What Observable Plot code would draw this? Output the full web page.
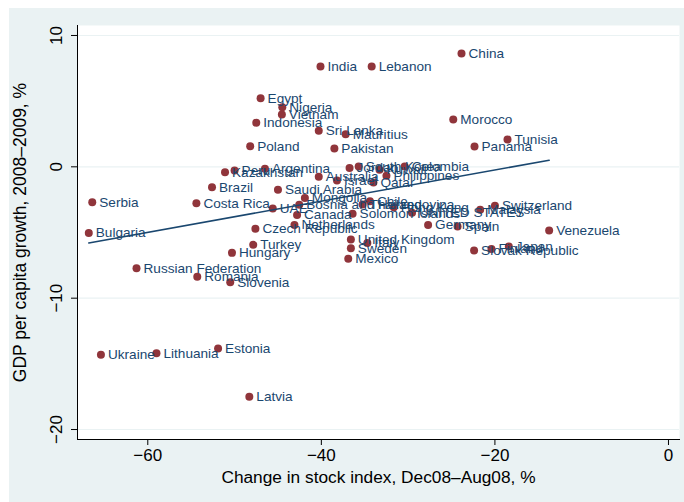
<!DOCTYPE html>
<html><head><meta charset="utf-8">
<script src="https://cdn.jsdelivr.net/npm/d3@7"></script>
<script src="https://cdn.jsdelivr.net/npm/@observablehq/plot@0.6"></script>
<style>
body{margin:0;background:#fff;}
#chart{position:absolute;left:9px;top:8px;}
</style></head><body><div id="chart"></div>
<script>
const countries = ["China","India","Lebanon","Egypt","Nigeria","Vietnam","Indonesia","Sri Lanka","Mauritius","Poland","Pakistan","Morocco","Panama","Tunisia",
"Peru","Kazakhstan","Argentina","Australia","Israel","Saudi Arabia","Jordan","South Korea","Kuwait","Colombia","Philippines","Qatar",
"Brazil","Serbia","Costa Rica","Bulgaria","Russian Federation","Romania","Slovenia","Hungary","Turkey","Czech Republic","UAE",
"Ukraine","Lithuania","Estonia","Latvia","Mongolia","Bosnia and Herzegovina","Canada","Netherlands","Solomon Islands",
"United Kingdom","Sweden","Mexico","Italy","Chile","Thailand","Hong Kong","UNITED STATES","Germany","Spain","Venezuela",
"Slovak Republic","Finland","Japan","Switzerland","Malaysia"];
const stockChange = [-23.85,-40.1,-34.2,-47.0,-44.5,-44.55,-47.5,-40.3,-37.2,-48.2,-38.5,-24.8,-22.35,-18.55,
-50.0,-51.1,-46.5,-40.3,-38.2,-45.0,-36.75,-35.7,-33.3,-30.4,-32.5,-34.0,
-52.6,-66.4,-54.4,-66.8,-61.3,-54.3,-50.5,-50.3,-47.85,-47.6,-45.6,
-65.4,-59.0,-51.9,-48.3,-41.9,-42.55,-42.8,-43.1,-36.4,
-36.6,-36.6,-36.9,-34.7,-34.4,-35.25,-31.65,-29.55,-27.7,-24.3,-13.75,
-22.4,-20.4,-18.4,-20.0,-21.7];
const gdpGrowth = [8.63,7.64,7.64,5.22,4.54,3.98,3.35,2.74,2.48,1.57,1.39,3.6,1.54,2.08,
-0.28,-0.41,-0.15,-0.76,-1.04,-1.75,-0.08,0.02,-0.23,0.02,-0.67,-1.2,
-1.55,-2.7,-2.77,-5.03,-7.72,-8.36,-8.79,-6.55,-5.94,-4.72,-3.17,
-14.3,-14.2,-13.84,-17.5,-2.37,-2.89,-3.66,-4.42,-3.58,
-5.54,-6.2,-7.0,-5.79,-2.62,-2.87,-3.08,-3.5,-4.42,-4.55,-4.85,
-6.37,-6.25,-6.06,-2.96,-3.27];
const xTicks = [-60,-40,-20,0];
const yTicks = [-20,-10,0,10];
const xTitle = "Change in stock index, Dec08\u2013Aug08, %";
const yTitle = "GDP per capita growth, 2008\u20132009, %";

const data = countries.map((c,i)=>({country:c, x:stockChange[i], y:gdpGrowth[i]}));
const navy = "#1a476f", maroon = "#90353b", bg = "#eaf2f3";
const fmt = d => d < 0 ? "\u2212" + Math.abs(d) : String(d);

const plot = Plot.plot({
  width: 675, height: 494,
  marginLeft: 68, marginRight: 5, marginTop: 17, marginBottom: 63,
  style:{background:bg, fontFamily:"'Liberation Sans', Arial, sans-serif", overflow:"visible"},
  x:{domain:[-68.1,1.27]},
  y:{domain:[-20.76,10.76]},
  marks:[
    Plot.frame({fill:"white", stroke:null}),
    Plot.gridY(yTicks, {stroke:bg, strokeOpacity:1, strokeWidth:1.2}),
    Plot.axisX(xTicks, {tickSize:6, tickPadding:3, fontSize:17, label:null, tickFormat:fmt, stroke:"#000", fill:"#000"}),
    Plot.axisY(yTicks, {tickSize:6, tickFormat:()=>"", label:null, stroke:"#000"}),
    Plot.text(yTicks, {y:d=>d, text:fmt, frameAnchor:"left", rotate:-90, dx:-21, fontSize:17, fill:"#000", textAnchor:"middle", lineAnchor:"middle"}),
    Plot.text([yTitle], {frameAnchor:"left", rotate:-90, dx:-57, fontSize:17.5, fill:"#000", textAnchor:"middle", lineAnchor:"middle"}),
    Plot.text([xTitle], {frameAnchor:"bottom", dy:38, fontSize:17.3, fill:"#000", textAnchor:"middle", lineAnchor:"middle"}),
    Plot.frame({anchor:"left", stroke:"#000"}),
    Plot.frame({anchor:"bottom", stroke:"#000"}),
    Plot.dot(data, {x:"x", y:"y", r:4, fill:maroon, stroke:null}),
    Plot.text(data, {x:"x", y:"y", text:"country", textAnchor:"start", lineAnchor:"middle", dx:7, fill:navy, fontSize:13.6}),
    Plot.linearRegressionY(data, {x:"x", y:"y", stroke:navy, strokeWidth:1.6, ci:0})
  ]
});
document.getElementById("chart").append(plot);
</script></body></html>
